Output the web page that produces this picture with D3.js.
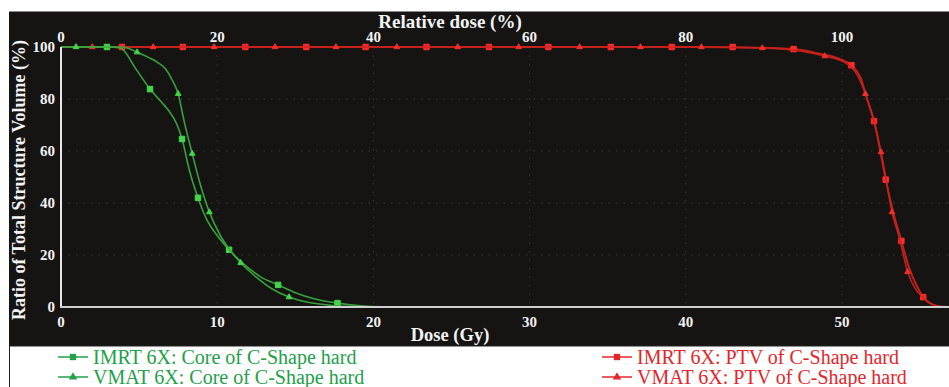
<!DOCTYPE html>
<html><head><meta charset="utf-8">
<script src="https://cdn.jsdelivr.net/npm/d3@7"></script>
<style>
html,body{margin:0;padding:0;background:#fff;}
svg{display:block;}
svg text{font-family:"Liberation Serif","Tinos","Times New Roman","DejaVu Serif",serif;}
</style></head>
<body>
<svg id="chart" width="949" height="387"></svg>
<script>
// ---------- data (dose in Gy, volume in %) ----------
const imrtCore = [[0,100],[2.94,100],[3.8,99.6],[4.8,91.5],[5.7,83.8],[6.4,79],[6.9,75.5],[7.4,70.5],[7.75,64.6],[8.2,53],[8.77,42],[9.3,34],[10.0,27.5],[10.76,22],[11.8,16],[12.8,11.5],[13.9,8.5],[15.0,5.5],[16.2,3.2],[17.7,1.5],[19.2,0.5],[20.5,0.1],[22,0]];
const imrtCoreMarks = [[2.94,100],[5.7,83.8],[7.75,64.6],[8.77,42],[10.76,22],[13.9,8.5],[17.7,1.5]];
const vmatCore = [[0,100],[0.96,100],[3.8,100],[4.3,99.5],[4.87,98],[5.6,96],[6.2,94],[6.7,91.5],[7.1,87.5],[7.5,82],[7.9,71],[8.4,59],[8.9,47.5],[9.5,36.5],[10.2,27.5],[10.8,22],[11.5,17],[12.5,11.5],[13.5,7],[14.6,3.8],[15.8,1.8],[17.3,0.6],[19,0.1],[20,0]];
const vmatCoreMarks = [[0.96,100],[4.87,98],[7.5,82],[8.4,59],[9.5,36.5],[11.5,17],[14.6,3.8]];
const imrtPtv = [[0,100],[40,100],[44,99.8],[46.9,99.2],[48.5,97.5],[49.8,95.5],[50.6,93],[51.2,88],[51.6,80],[52.05,71.5],[52.45,60],[52.8,49],[53.3,36],[53.8,25.4],[54.3,15],[54.8,8],[55.2,3.8],[55.7,1.2],[56.3,0.2],[57,0]];
const imrtPtvMarks = [[3.9,100],[7.8,100],[11.8,100],[15.7,100],[19.5,100],[23.4,100],[27.4,100],[31.2,100],[35.2,100],[39.1,100],[43.0,100],[46.9,99.2],[50.6,93],[52.05,71.5],[52.8,49],[53.8,25.4],[55.2,3.8]];
const vmatPtv = [[0,100],[40,100],[44.9,99.6],[47.5,98.3],[48.9,96.5],[50.2,94],[51,89],[51.5,82],[52.0,72.5],[52.5,59.6],[52.85,48],[53.2,36.5],[53.7,26],[54.2,13.5],[54.7,7],[55.2,3.5],[55.8,1],[56.4,0],[57,0]];
const vmatPtvMarks = [[2.0,100],[5.9,100],[9.8,100],[13.7,100],[17.6,100],[21.5,100],[25.4,100],[29.3,100],[33.2,100],[37.1,100],[41.0,100],[44.9,99.6],[48.9,96.5],[51.5,82],[52.5,59.6],[53.2,36.5],[54.2,13.5]];

const doseTicks = [0,10,20,30,40,50];
const relTicks = [0,20,40,60,80,100];
const volTicks = [0,20,40,60,80,100];
const gridRel = [20,40,60,80,100];
const gridVol = [20,40,60,80];

const legendItems = [
  {label:"IMRT 6X: Core of C-Shape hard", color:"#22a04a", sym:"square"},
  {label:"VMAT 6X: Core of C-Shape hard", color:"#22a04a", sym:"triangle"},
  {label:"IMRT 6X: PTV of C-Shape hard", color:"#e3262b", sym:"square"},
  {label:"VMAT 6X: PTV of C-Shape hard", color:"#e3262b", sym:"triangle"}
];

// ---------- layout ----------
const svg = d3.select("#chart");
const pLeft = 61, pRight = 842, pTop = 47, pBottom = 307;

const x = d3.scaleLinear().domain([0,50]).range([pLeft,pRight]);
const xRel = d3.scaleLinear().domain([0,100]).range([pLeft,pRight]);
const y = d3.scaleLinear().domain([0,100]).range([pBottom,pTop]);

// frame backgrounds
svg.append("rect").attr("x",9).attr("y",11).attr("width",940).attr("height",335).attr("fill","#151413");
svg.append("line").attr("x1",9).attr("x2",949).attr("y1",11.5).attr("y2",11.5).attr("stroke","#8a8a8a").attr("stroke-width",1);
svg.append("rect").attr("x",9.5).attr("y",346).attr("width",945).attr("height",45).attr("fill","#fff").attr("stroke","#222").attr("stroke-width",1);

// grid
const g = svg.append("g");
g.selectAll(".gh").data(gridVol).join("line")
  .attr("x1",pLeft).attr("x2",949).attr("y1",d=>y(d)).attr("y2",d=>y(d))
  .attr("stroke","#3c3b38").attr("stroke-width",1).attr("stroke-dasharray","1.5,6");
g.selectAll(".gv").data(gridRel).join("line")
  .attr("x1",d=>xRel(d)).attr("x2",d=>xRel(d)).attr("y1",pTop).attr("y2",pBottom)
  .attr("stroke","#3a3936").attr("stroke-width",1).attr("stroke-dasharray","1.5,7");

// clip
svg.append("clipPath").attr("id","clip").append("rect").attr("x",pLeft).attr("y",pTop-10).attr("width",949-pLeft).attr("height",pBottom-pTop+12);

const line = d3.line().x(d=>x(d[0])).y(d=>y(d[1])).curve(d3.curveMonotoneX);
const plot = svg.append("g").attr("clip-path","url(#clip)");

function drawSeries(data, marks, lineColor, markColor, sym, size, lw){
  plot.append("path").datum(data).attr("d",line).attr("fill","none")
    .attr("stroke",lineColor).attr("stroke-width",lw).attr("opacity",0.95);
  plot.selectAll(null).data(marks).join("path")
    .attr("transform",d=>`translate(${x(d[0])},${y(d[1])})`)
    .attr("d",d3.symbol().type(sym==="square"?d3.symbolSquare:d3.symbolTriangle).size(size))
    .attr("fill",markColor).attr("stroke",markColor).attr("stroke-width",1).attr("stroke-linejoin","round");
}
drawSeries(imrtPtv, imrtPtvMarks, "#c8221c", "#ff2b2b", "square", 30, 2);
drawSeries(vmatPtv, vmatPtvMarks, "#c8221c", "#f0302a", "triangle", 14, 1.6);
drawSeries(imrtCore, imrtCoreMarks, "#3aa83e", "#46d54a", "square", 30, 1.6);
drawSeries(vmatCore, vmatCoreMarks, "#3aa83e", "#46d54a", "triangle", 14, 1.6);

// axes lines
svg.append("line").attr("x1",pLeft).attr("x2",pLeft).attr("y1",pTop).attr("y2",pBottom+1)
  .attr("stroke","#e6e6e6").attr("stroke-width",2);
svg.append("line").attr("x1",pLeft-1).attr("x2",949).attr("y1",pBottom).attr("y2",pBottom)
  .attr("stroke","#cfcfcf").attr("stroke-width",2);

// tick labels
function tick(sel){ return sel.attr("fill","#f2f2f2").attr("font-weight","bold").attr("font-size","15px"); }

tick(svg.append("g").selectAll("text").data(volTicks).join("text")
  .attr("x",55).attr("y",d=>y(d)+5).attr("text-anchor","end").text(d=>d));
tick(svg.append("g").selectAll("text").data(relTicks).join("text")
  .attr("x",d=>xRel(d)).attr("y",42).attr("text-anchor","middle").text(d=>d));
tick(svg.append("g").selectAll("text").data(doseTicks).join("text")
  .attr("x",d=>x(d)).attr("y",327).attr("text-anchor","middle").text(d=>d));

// axis titles
svg.append("text").attr("x",450).attr("y",28).attr("text-anchor","middle")
  .attr("fill","#f2f2f2").attr("font-weight","bold").attr("font-size","19px")
  .text("Relative dose (%)");
svg.append("text").attr("x",450).attr("y",341).attr("text-anchor","middle")
  .attr("fill","#f2f2f2").attr("font-weight","bold").attr("font-size","18.5px")
  .text("Dose (Gy)");
svg.append("text").attr("transform","translate(25,180) rotate(-90)").attr("text-anchor","middle")
  .attr("fill","#f2f2f2").attr("font-weight","bold").attr("font-size","18px")
  .text("Ratio of Total Structure Volume (%)");

// legend
const legPos = [[58,357],[58,377],[602,357],[602,377]];
legendItems.forEach((it,i)=>{
  const [lx,ly] = legPos[i];
  const lg = svg.append("g").attr("transform",`translate(${lx},${ly})`);
  lg.append("line").attr("x1",0).attr("x2",30).attr("y1",0).attr("y2",0).attr("stroke",it.color).attr("stroke-width",1.5);
  lg.append("path").attr("transform","translate(15,0)")
    .attr("d",d3.symbol().type(it.sym==="square"?d3.symbolSquare:d3.symbolTriangle).size(it.sym==="square"?40:30))
    .attr("fill",it.color);
  lg.append("text").attr("x",35).attr("y",7).attr("fill",it.color)
    .attr("font-size","20px").text(it.label);
});
</script>
</body></html>
